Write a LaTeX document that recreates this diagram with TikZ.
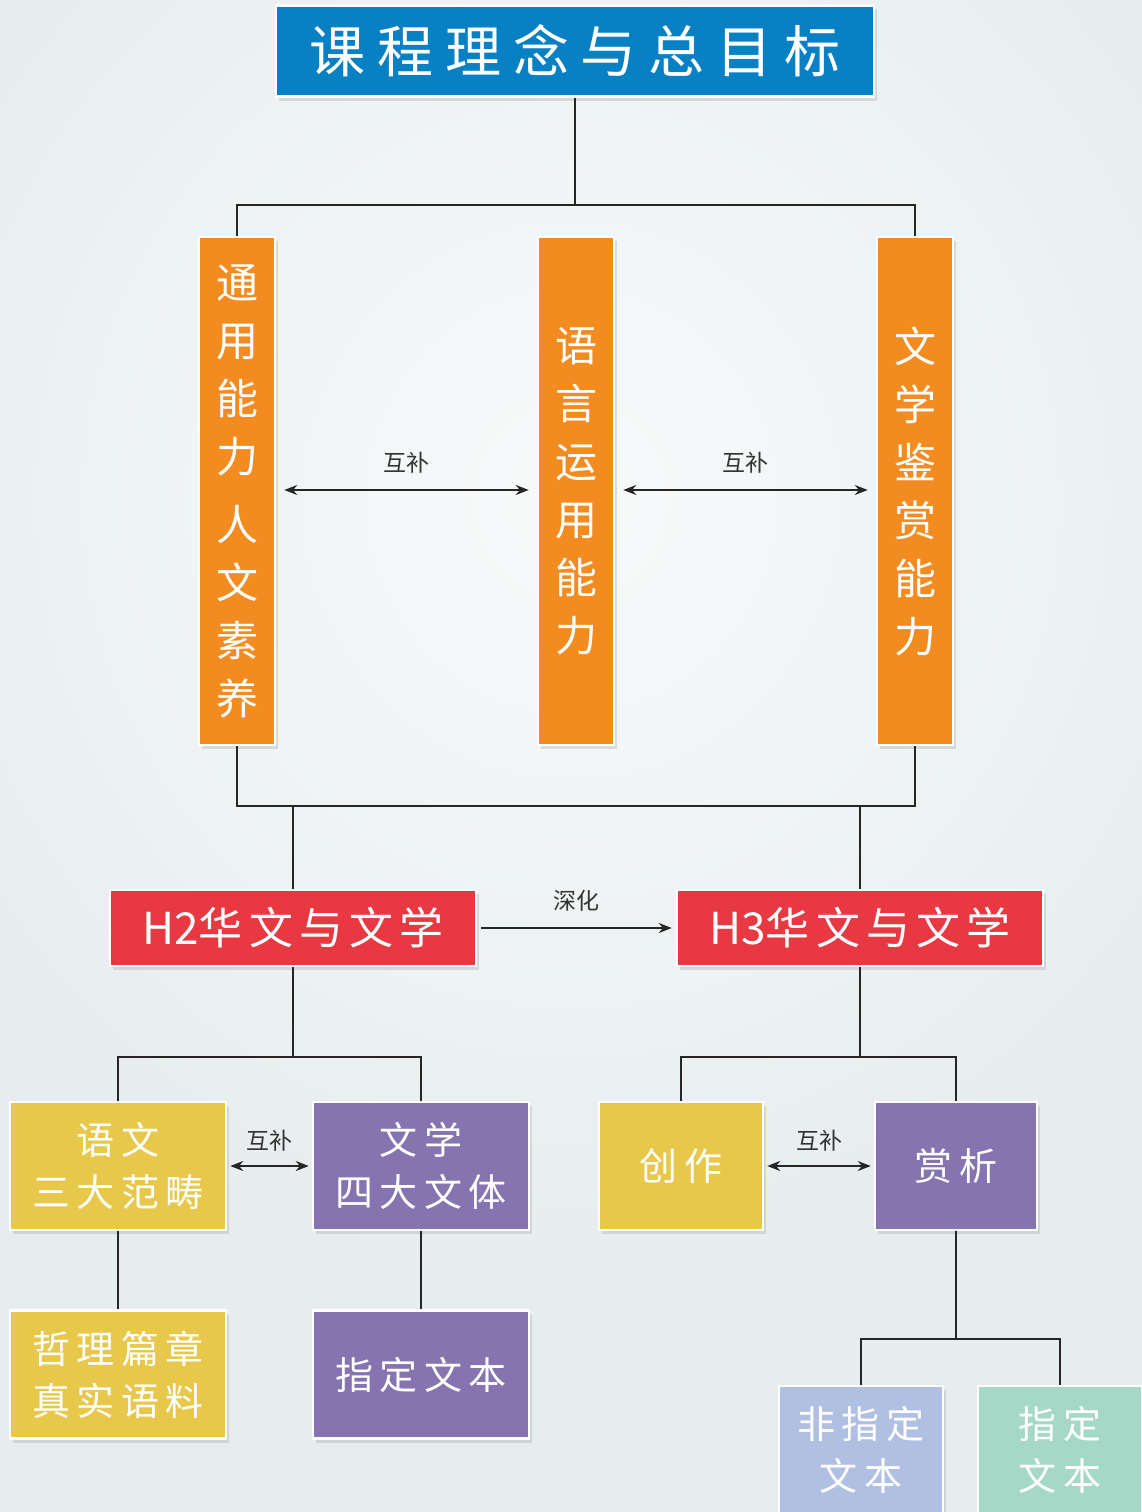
\documentclass[tikz,border=0pt]{standalone}
\usepackage{fontspec}
\setmainfont{Noto Sans CJK SC}
\usetikzlibrary{arrows.meta,positioning,shadows}
\usepackage{xcolor}
\definecolor{bgedge}{RGB}{230,237,238}
\definecolor{bgmid}{RGB}{248,250,250}
\definecolor{titleblue}{RGB}{8,128,196}
\definecolor{colorange}{RGB}{242,140,32}
\definecolor{boxred}{RGB}{232,56,66}
\definecolor{boxyellow}{RGB}{232,200,74}
\definecolor{boxpurple}{RGB}{134,116,176}
\definecolor{boxblue}{RGB}{176,192,226}
\definecolor{boxgreen}{RGB}{166,216,200}
\newcommand{\spreadcjk}{\addfontfeature{LetterSpace=14}}

\begin{document}
\begin{tikzpicture}[x=1pt,y=-1pt,
    box/.style={draw=white,line width=2.5pt,text=white,inner sep=0pt,align=center,
      drop shadow={opacity=0.22,shadow xshift=3pt,shadow yshift=-4pt}},
    column/.style={box,fill=colorange,minimum width=76pt,minimum height=508pt,
      font=\fontsize{42}{58}\selectfont},
    branch/.style={box,fill=boxred,minimum width=366pt,minimum height=76pt,
      font=\fontsize{44}{50}\selectfont},
    leaf/.style={box,minimum width=216pt,minimum height=128pt,
      font=\fontsize{38}{52}\selectfont\addfontfeature{LetterSpace=16}},
    link/.style={line width=2.4pt,draw=black!85},
    both/.style={line width=2pt,draw=black!85,{Stealth[length=13pt,width=10pt]}-{Stealth[length=13pt,width=10pt]}},
    note/.style={font=\fontsize{23}{26}\selectfont,text=black!80}]
  % background
  \useasboundingbox (0,0) rectangle (1142,1512);
  \fill[bgedge] (0,0) rectangle (1142,1512);
  \begin{scope}
    \clip (0,0) rectangle (1142,1512);
    \shade[inner color=bgmid,outer color=bgedge] (-200,-300) rectangle (1342,1300);
  \end{scope}

  % top
  \node[box,fill=titleblue,minimum width=598pt,minimum height=91pt,
    font=\fontsize{56}{60}\selectfont\addfontfeature{LetterSpace=21}] (title) at (575,51) {课程理念与总目标};

  % three abilities
  \node[column] (tongyong) at (237,491) {通\\用\\能\\力\\[10pt]人\\文\\素\\养};
  \node[column] (yuyan) at (576,491) {语\\言\\运\\用\\能\\力};
  \node[column] (jianshang) at (915,491) {文\\学\\鉴\\赏\\能\\力};

  \path (title.south) ++(0,107) coordinate (split);
  \draw[link] (title.south) -- (split);
  \draw[link] (tongyong.north) |- (split) -| (jianshang.north);

  \draw[both] ([xshift=8pt]tongyong.east |- 0,490) -- node[note,above=12pt] {互补} ([xshift=-8pt]yuyan.west |- 0,490);
  \draw[both] ([xshift=8pt]yuyan.east |- 0,490) -- node[note,above=12pt] {互补} ([xshift=-8pt]jianshang.west |- 0,490);

  % H2 and H3
  \node[branch] (htwo) at (293,928) {H2{\spreadcjk 华文与文学}};
  \node[branch] (hthree) at (860,928) {H3{\spreadcjk 华文与文学}};

  \coordinate (joinL) at (tongyong.south |- 0,806);
  \coordinate (joinR) at (jianshang.south |- 0,806);
  \draw[link] (tongyong.south) -- (joinL) -- (joinR) -- (jianshang.south);
  \draw[link] (htwo.north) -- (htwo.north |- joinL);
  \draw[link] (hthree.north) -- (hthree.north |- joinR);
  \draw[link,-{Stealth[length=13pt,width=10pt]},line width=2pt] ([xshift=4pt]htwo.east) -- node[note,above=12pt] {深化} ([xshift=-4pt]hthree.west);

  % H2 subtree
  \node[leaf,fill=boxyellow] (yuwen) at (118,1166) {语文\\三大范畴};
  \node[leaf,fill=boxpurple] (wenti) at (421,1166) {文学\\四大文体};
  \node[leaf,fill=boxyellow,below=78pt of yuwen] (zheli) {哲理篇章\\真实语料};
  \node[leaf,fill=boxpurple,below=78pt of wenti] (zhiding) {指定文本};

  \path (htwo.south) ++(0,90) coordinate (splitH2);
  \draw[link] (htwo.south) -- (splitH2);
  \draw[link] (yuwen.north) |- (splitH2) -| (wenti.north);
  \draw[both] ([xshift=3pt]yuwen.east) -- node[note,above=10pt] {互补} ([xshift=-3pt]wenti.west);
  \draw[link] (yuwen.south) -- (zheli.north);
  \draw[link] (wenti.south) -- (zhiding.north);

  % H3 subtree
  \node[leaf,fill=boxyellow,minimum width=164pt] (chuangzuo) at (681,1166) {创作};
  \node[leaf,fill=boxpurple,minimum width=162pt] (shangxi) at (956,1166) {赏析};

  \path (hthree.south) ++(0,90) coordinate (splitH3);
  \draw[link] (hthree.south) -- (splitH3);
  \draw[link] (chuangzuo.north) |- (splitH3) -| (shangxi.north);
  \draw[both] ([xshift=3pt]chuangzuo.east) -- node[note,above=10pt] {互补} ([xshift=-3pt]shangxi.west);

  \node[leaf,fill=boxblue,minimum width=164pt] (feizhiding) at (861,1450) {非指定\\文本};
  \node[leaf,fill=boxgreen,minimum width=164pt] (zhidingB) at (1060,1450) {指定\\文本};

  \path (shangxi.south) ++(0,108) coordinate (splitS);
  \draw[link] (shangxi.south) -- (splitS);
  \draw[link] (feizhiding.north) |- (splitS) -| (zhidingB.north);
\end{tikzpicture}
\end{document}
